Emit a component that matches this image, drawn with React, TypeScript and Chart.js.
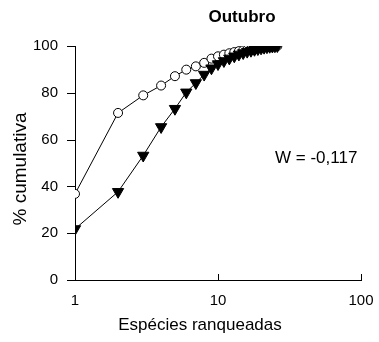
import React, { useEffect, useRef } from "react";
import { Chart, registerables } from "chart.js";

Chart.register(...registerables);

const ranks = [1, 2, 3, 4, 5, 6, 7, 8, 9, 10, 11, 12, 13, 14, 15, 16, 17, 18, 19, 20, 21, 22, 23, 24, 25, 26];
const circleValues = [36.8, 71.4, 78.9, 83.1, 87.1, 89.9, 91.3, 92.8, 94.6, 95.6, 96.3, 96.9, 97.4, 97.8, 98.1, 98.4, 98.7, 98.9, 99.1, 99.3, 99.5, 99.6, 99.7, 99.8, 99.9, 100];
const triangleValues = [21.8, 37.7, 53.2, 65.4, 73.2, 80.2, 84.2, 87.8, 90.5, 92.3, 93.6, 94.7, 95.6, 96.4, 97.0, 97.6, 98.0, 98.4, 98.7, 99.0, 99.3, 99.5, 99.7, 99.8, 99.9, 100];
const xTicks = [1, 10, 100];
const yTicks = [0, 20, 40, 60, 80, 100];
const titleText = "Outubro";
const xTitle = "Espécies ranqueadas";
const yTitle = "% cumulativa";
const annotation = "W = -0,117";

const FONT = "'Liberation Sans', Arial, Helvetica, sans-serif";

const textPlugin = {
  id: "texts",
  afterDraw(chart: any) {
    const ctx = chart.ctx;
    const xs = chart.scales.x;
    const ys = chart.scales.y;
    ctx.save();
    ctx.strokeStyle = "#000";
    ctx.lineWidth = 1;
    // tick marks
    xTicks.forEach((v) => {
      const px = Math.round(xs.getPixelForValue(v)) + 0.5;
      ctx.beginPath();
      ctx.moveTo(px, ys.bottom);
      ctx.lineTo(px, ys.bottom - 6);
      ctx.stroke();
    });
    yTicks.forEach((v) => {
      const py = Math.round(ys.getPixelForValue(v)) + 0.5;
      ctx.beginPath();
      ctx.moveTo(xs.left - 8, py);
      ctx.lineTo(xs.left, py);
      ctx.stroke();
    });
    ctx.fillStyle = "#000";
    ctx.textAlign = "center";
    ctx.textBaseline = "middle";
    ctx.font = `bold 17px ${FONT}`;
    ctx.fillText(titleText, 242, 17);
    ctx.font = `17px ${FONT}`;
    ctx.fillText(xTitle, 200, 325);
    ctx.textAlign = "left";
    ctx.fillText(annotation, 275, 158);
    ctx.translate(21, 169);
    ctx.rotate(-Math.PI / 2);
    ctx.textAlign = "center";
    ctx.font = `19px ${FONT}`;
    ctx.fillText(yTitle, 0, 0);
    ctx.restore();
  },
};

export default function App() {
  const ref = useRef<HTMLCanvasElement>(null);
  useEffect(() => {
    if (!ref.current) return;
    const chart = new Chart(ref.current, {
      type: "line",
      data: {
        labels: ranks,
        datasets: [
          {
            data: ranks.map((r, i) => ({ x: r, y: triangleValues[i] })),
            borderColor: "#000",
            borderWidth: 1,
            pointStyle: "triangle",
            rotation: 180,
            pointRadius: 6.5,
            pointBackgroundColor: "#000",
            pointBorderColor: "#000",
            pointBorderWidth: 1,
            tension: 0,
          },
          {
            data: ranks.map((r, i) => ({ x: r, y: circleValues[i] })),
            borderColor: "#000",
            borderWidth: 1,
            pointStyle: "circle",
            pointRadius: 4.5,
            pointBackgroundColor: "#fff",
            pointBorderColor: "#000",
            pointBorderWidth: 1,
            tension: 0,
          },
        ],
      },
      options: {
        animation: false,
        responsive: false,
        maintainAspectRatio: false,
        layout: { padding: { left: 0, top: 46, right: 18, bottom: 0 } },
        plugins: { legend: { display: false }, tooltip: { enabled: false } },
        scales: {
          x: {
            type: "logarithmic",
            min: 1,
            max: 100,
            afterBuildTicks: (s: any) => {
              s.ticks = xTicks.map((v) => ({ value: v }));
            },
            afterFit: (s: any) => {
              s.height = 62;
            },
            ticks: {
              color: "#000",
              font: { family: FONT, size: 15 },
              padding: 4,
              maxRotation: 0,
              autoSkip: false,
              callback: (v: any) => String(v),
            },
            grid: { display: false },
            border: { display: true, color: "#000", width: 1 },
          },
          y: {
            min: 0,
            max: 100,
            afterBuildTicks: (s: any) => {
              s.ticks = yTicks.map((v) => ({ value: v }));
            },
            afterFit: (s: any) => {
              s.width = 75;
            },
            ticks: {
              color: "#000",
              font: { family: FONT, size: 15 },
              padding: 9,
            },
            grid: { display: false },
            border: { display: true, color: "#000", width: 1 },
          },
        },
      },
      plugins: [textPlugin],
    });
    return () => chart.destroy();
  }, []);
  return (
    <div style={{ position: "fixed", left: 0, top: 0, width: 379, height: 342, background: "#fff" }}>
      <canvas ref={ref} width={379} height={342} style={{ width: 379, height: 342 }} />
    </div>
  );
}
